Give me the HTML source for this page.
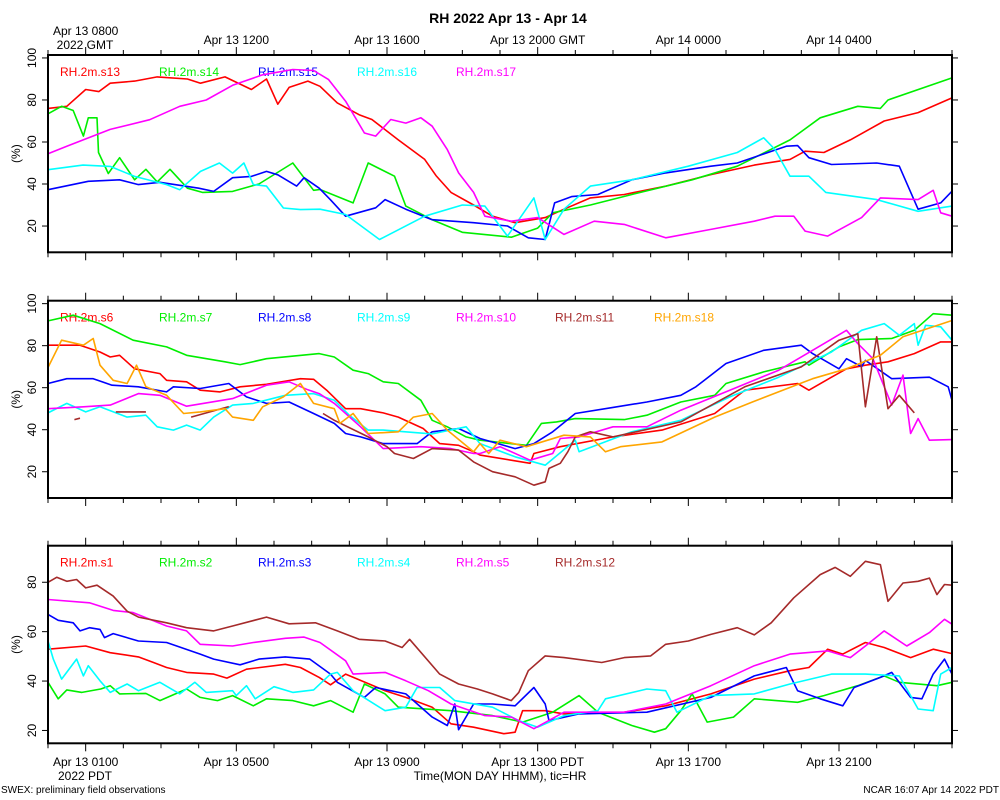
<!DOCTYPE html>
<html><head><meta charset="utf-8">
<style>
html,body{margin:0;padding:0;background:#fff;}
svg{display:block;font-family:"Liberation Sans",sans-serif;}
</style></head>
<body>
<svg id="chart" width="1000" height="800" viewBox="0 0 1000 800" xmlns="http://www.w3.org/2000/svg">
<rect x="0" y="0" width="1000" height="800" fill="#fff"/>
<text x="508" y="23" font-size="14" font-weight="bold" text-anchor="middle">RH 2022 Apr 13 - Apr 14</text>
<text x="500" y="780" font-size="12" text-anchor="middle">Time(MON DAY HHMM), tic=HR</text>
<text x="1" y="793" font-size="10">SWEX: preliminary field observations</text>
<text x="999" y="793" font-size="10" text-anchor="end">NCAR 16:07 Apr 14 2022 PDT</text>
<text x="85" y="49" font-size="12" text-anchor="middle">2022 GMT</text>
<text x="85" y="780" font-size="12" text-anchor="middle">2022 PDT</text>
<g id="layer"></g>
</svg>
<script>
// ---- time axis data (hours PDT) ----
const topTickLabels = ["Apr 13 0800","Apr 13 1200","Apr 13 1600","Apr 13 2000 GMT","Apr 14 0000","Apr 14 0400"];
const bottomTickLabels = ["Apr 13 0100","Apr 13 0500","Apr 13 0900","Apr 13 1300 PDT","Apr 13 1700","Apr 13 2100"];
const labelHours = [1,5,9,13,17,21];
const yTicksTop = [20,40,60,80,100];
const yTicksMid = [20,40,60,80,100];
const yTicksBot = [20,40,60,80];

// ---- Panel 1 ----
const s13T=[0,0.5,1,1.35,1.65,2.3,2.9,3.7,4.05,4.7,5.4,5.8,6.1,6.4,6.9,7.22,7.68,8.26,8.6,9.3,10,10.3,10.7,11.3,11.8,12.4,13.2,13.7,14.4,15.3,16.4,17.6,18.75,19.7,20.1,20.6,21.3,22.2,23.1,24];
const s13V=[76,77,85,84,88,89,91,90,88,91,85,90,78,86,89,86.5,78.6,73,70.7,61,51.7,44,36,30,24.7,21.6,24,28,33.4,35,39,44.5,49,51.7,55.6,55,61,70,74,81];
const s14T=[0,0.36,0.67,0.94,1.07,1.3,1.34,1.6,1.9,2.3,2.6,2.9,3.24,3.7,4.1,4.9,5.6,6.5,7.05,7.22,8.1,8.5,9.2,9.5,10.2,11,12.3,13,13.4,14.4,15.5,17.1,18.3,19.7,20.5,21.5,22.1,22.3,24];
const s14V=[73.4,77,75,62.8,71.5,71.5,55,45,52.5,42,47,41,47,38,36,36.5,40,50,37,37.4,31,50,43.7,29.5,23,17,14.7,19,26.3,30,35,42,48.5,61,71.5,77,76,80,90.5];
const s15T=[0,1.07,1.9,2.4,2.97,4,4.4,4.9,5.4,5.8,6.1,6.6,6.8,7.2,7.5,7.9,8.7,8.95,9.5,10.2,11.3,12.2,12.75,13.2,13.45,13.9,14.6,15.5,16.4,17.6,18.3,19.6,19.9,20.2,20.8,22,22.6,23.1,23.7,24];
const s15V=[37.3,41.3,42,39.7,40.8,38,36.5,43,43.6,46,44.4,39,43,38,32.5,24.7,28.7,32.6,28,23,21.6,20,14.4,13.6,31,34,35,42,45.3,48.5,50,58,58.3,52.5,49.3,50,48.5,28,31,36.6];
const s16T=[0,0.93,1.65,2.3,3.15,3.5,4.05,4.55,4.9,5.2,5.45,5.8,6.25,6.7,7.22,7.9,8.8,10,11,11.6,12.2,12.9,13.2,13.7,14.4,15.5,17,18.3,19,19.3,19.7,20.2,20.65,22,23.1,24];
const s16V=[46.8,49,48.4,43.6,39.7,37.3,46,50,45.2,50,39.7,39,28.6,27.8,28,25.5,13.6,24.7,30,29.5,15.2,33.4,13.6,28,39,42,48.5,55,62,56.4,43.7,43.7,36,32.6,27,29.5];
const s17T=[0,0.5,1.65,2.7,3.5,4.2,4.9,5.7,6.5,7.05,7.45,7.9,8.4,8.7,9.1,9.5,9.9,10.2,10.6,10.9,11.3,11.6,12.3,13,13.7,14.5,15.3,16.4,17.6,18.75,19.3,19.8,20.1,20.7,21.6,22.1,23.1,23.5,23.7,24];
const s17V=[54.4,58,66,70.6,77,80,87,92,94.5,94,89.7,79.4,64.3,62.8,70.7,69,71.5,67.5,56.4,45.3,36,24.7,22.3,24,16,22.3,20.8,14.4,18.4,22.3,24.7,24.7,17.6,15.2,24,33.4,32.6,37,26.3,24.7];

// ---- Panel 2 ----
const s6T=[0,0.85,1.38,1.65,1.9,2.3,2.97,3.15,3.68,4.04,4.57,5.1,5.8,6.7,7.05,7.4,7.9,8.3,8.9,9.3,9.96,10.4,10.9,11.3,11.47,12.8,12.9,13.6,15,16.3,17.7,18.5,19.9,20.2,20.8,21.2,21.7,22.3,23,23.7,24];
const s6V=[80.2,80.2,77,74.6,75.4,69,66.7,63.5,62.8,58.8,58,60.4,61.6,64.3,64,58.8,50,50,48,46,40.6,33.4,32.6,29.5,27.9,24,28.7,31.9,36.6,39.8,47.7,58.8,62,58.8,65,69,70.7,72.3,76.2,81.8,81.8];
const s7T=[0,0.67,1.38,2.26,3.15,3.68,4.7,5.1,5.8,7.2,7.6,8.1,8.5,8.9,9.3,9.9,10.2,10.6,11.1,11.47,12.7,13.1,13.5,14,15.3,15.9,16.8,17.7,18,19,20.1,20.2,21,21.5,22.4,23,23.5,24];
const s7V=[91.8,94.5,90.5,82.6,79.4,75.4,72.3,71,73.8,76.2,74.6,68.3,66.7,62.8,62,54,44.5,41.4,36.6,35,32.6,43,43.7,45.3,44.8,46.9,53.2,56.4,62,67.5,72.3,70.7,79.4,82.9,83.4,87.3,95.2,94.5];
const s8T=[0,0.5,1.2,1.7,2.4,3.15,3.33,4.04,4.8,5.27,5.8,6.4,7.05,7.6,7.9,8.3,8.9,9.8,10.2,10.9,11.47,12.4,12.9,13.4,14,15,15.9,16.8,17.2,18,19,20,20.3,21,21.2,21.6,21.7,22.4,23.4,23.9,24];
const s8V=[62,64.3,64.3,61.2,60.4,58,60.4,59.6,62,55.6,52.5,53.2,47.7,43,38.2,36.6,33.4,33.4,39,40.6,35.8,31,33.4,39,47.7,50.6,53.2,56.4,60.4,71.5,77.8,80.2,76.2,69,73.8,70,73,64.3,65,60.4,54];
const s9T=[0,0.5,1,1.38,2.1,2.6,2.9,3.33,3.68,4.04,4.4,4.9,5.45,6.3,7.05,7.6,8,8.5,8.9,10.2,11.1,11.47,12.4,13.2,14,14.1,15.5,16.8,18.1,19.4,20.8,21.6,22.2,22.6,23,23.1,23.3,23.7,24];
const s9V=[48,52.5,48.5,50.9,46,46.9,41.4,39.8,42.2,39.8,46,51.7,52.5,56.4,57.2,54,46.9,39.8,39.8,38,41.4,33.4,27.1,23.1,35,29.5,39,44.5,55.6,65,77,87.3,90.5,85,90.5,80.2,89.7,89,82.6];
const s10T=[0,0.94,1.65,2.4,2.97,3.68,4.9,5.8,6.4,6.9,7.2,7.6,8.3,8.9,9.9,10.7,11.3,11.47,12,12.8,13.4,13.6,14.1,15,15.9,16.8,18.1,19.4,20.3,21.2,21.5,21.9,22.4,22.7,22.9,23.1,23.4,24];
const s10V=[50,50.9,51.7,57.2,56.4,51.2,54.8,61.2,62.8,59,57.2,52.5,41.4,31,31.9,31,28.7,28.7,31.9,25.5,28.7,35.8,36.6,41.4,41.4,49.3,58.8,68.3,77.8,87.3,81,73.8,51.7,66,38.2,45.3,35,35.3];
const s11T=[0.7,0.85,null,1.8,2.6,null,3.8,4.8,null,7.3,7.6,8.5,9,9.2,9.7,10.2,10.9,11.3,11.8,12.4,12.9,13.2,13.3,13.6,13.8,14,14.4,15,16.8,18.5,20,21,21.5,21.7,22,22.3,22.6,23];
const s11V=[44.8,45.5,null,48.5,48.5,null,46,51,null,47.7,44.5,36.6,31.9,28.7,26.3,31,30.3,24.7,20,17.6,13.6,15.2,21.6,24,29.5,36.6,39,36.6,43.7,60.4,69.9,82.6,85.7,50.9,84.2,50,56.4,48];
const s18T=[0,0.36,0.94,1.2,1.38,1.73,2.1,2.35,2.6,3.15,3.6,4.04,4.7,4.9,5.45,5.7,6.25,6.7,7.05,7.6,7.75,8.1,8.5,9.3,9.7,10.2,10.6,11.3,11.47,11.7,12,12.7,13.7,14.4,14.8,15.2,16.3,17.7,18.7,20.3,21.2,22.1,22.7,24];
const s18V=[69.6,82.6,80.2,83.4,70.7,63.5,62,70.7,60.4,56.4,47.7,48.5,50,46,44.5,50.9,55.6,62,52.5,50,43,47.7,38.2,39,46,47.7,39.8,29.5,33.4,28.7,35,31.9,37.4,36.6,29.5,31.9,34.2,46,53.2,64.3,69,75.4,84.2,92];

// ---- Panel 3 ----
const s1T=[0,1,1.65,2.4,2.8,3.15,3.68,4.4,4.75,5.27,6.3,6.7,7.2,7.5,7.9,8.95,9.5,10.2,10.7,11.3,12.1,12.4,12.6,13.2,13.7,15.3,16.4,17.6,18.75,19.7,20.2,20.7,21.1,21.7,22.2,22.9,23.5,24];
const s1V=[52.9,54.2,51.5,49.8,47.5,45.5,43.5,42.8,41.2,44.8,46.8,45.5,41.5,38.5,42.8,36.1,33.4,29.4,22.7,21.3,18.7,19.3,28,28,26.7,27.4,30,34.8,40.8,44.2,45.5,52.9,50.9,55.6,53.6,49.5,52.9,51.1];
const s2T=[0,0.27,0.5,0.9,1.4,1.65,1.9,2.6,2.97,3.68,4.04,4.5,4.9,5.45,5.8,6.5,7.05,7.5,8.1,8.4,8.95,9.3,10.7,11.8,12.6,13.4,14.1,14.6,15.5,16.1,16.4,16.8,17.1,17.5,18.2,18.75,19.9,20.6,21.5,22.2,22.6,23.6,24];
const s2V=[39.5,32.8,36.4,35.4,36.8,38.1,34.8,35,32.1,36.8,33.4,32.1,34.1,30,32.8,32.1,30,32.1,27.4,38.8,34.8,29.4,28,26,23.4,27.4,34.1,27.4,22,19.3,20.7,28,34.8,23.4,25.4,32.8,31.4,34.1,38.1,42.1,39.5,38.1,39.5];
const s3T=[0,0.27,0.67,0.85,1.1,1.38,1.5,1.73,2.4,3.15,4.04,4.4,5.1,5.6,6.3,6.95,7.5,7.68,8.4,8.7,9.5,10.2,10.6,10.8,10.9,11.3,11.8,12.4,12.9,13.2,13.3,14.1,15.9,17.6,18.75,19.6,19.9,20.5,21.1,21.4,22.1,22.4,22.9,23.2,23.5,23.8,24];
const s3V=[67,64.6,63.6,60.3,61.6,60.9,57.6,59.2,56.2,55.6,50.9,48.9,46.6,48.9,49.8,48.9,42.8,39.5,33.4,37.4,34.8,25.4,22,30.7,20.3,30.7,30.7,30,37.4,30.7,24,26.7,27.4,33.4,42.1,45.5,36.1,32.8,30,37.4,41.5,43.5,33.4,32.8,42.8,48.9,42.8];
const s4T=[0,0.14,0.36,0.76,0.94,1.07,1.38,1.65,2.1,2.4,2.97,3.5,3.9,4.2,4.9,5,5.27,5.5,6,6.5,7.05,7.5,7.68,8.1,8.95,9.5,9.8,10.4,10.8,11.8,12.5,13,13.7,14.6,14.8,15.9,16.4,16.7,17.6,18.75,19.7,20.8,21.7,22.6,22.9,23.1,23.5,23.7,24];
const s4V=[56.2,48.9,40.8,48.9,42.1,46.2,40.1,35.4,38.8,36.1,39.5,34.8,39.5,35.4,36.1,34.1,38.1,32.8,37.7,35.4,36.4,42.8,43.5,36.1,28,29.4,37.4,37.4,32.1,29.4,24,21.3,26,28,32.8,36.8,36.1,27.4,34.1,34.8,38.8,42.8,42.8,42.1,34.1,28.7,28,42.8,45.5];
const s5T=[0,1.1,1.73,2.26,3.15,3.68,4.04,4.9,5.45,6.3,6.8,7.22,7.9,8.1,8.95,9.5,10.1,10.7,11.6,12.3,12.9,13.7,15.3,16.4,17.6,18.75,19.7,20.7,21.3,21.7,22.2,22.8,23.4,23.8,24];
const s5V=[73,71.7,68.6,67.7,62.3,60.3,54.9,54.2,55.6,57.3,57.8,55.6,48.2,42.8,43.5,40.1,36.1,30.7,26,25.4,20.7,27.4,27.4,30.7,38.1,46.2,50.9,52.2,49.5,54.2,60.3,54.2,59.6,65,63];
const s12T=[0,0.23,0.5,0.76,1,1.3,1.73,2.1,2.4,3.15,3.68,4.4,4.9,5.8,6.4,7.1,7.68,8.26,8.95,9.4,9.6,10.4,10.9,11.4,11.8,12.3,12.5,12.75,13.2,13.7,14.7,15.3,16,16.4,17,17.6,18.3,18.75,19.2,19.8,20.5,20.9,21.3,21.7,22.1,22.3,22.7,23.1,23.4,23.6,23.8,24];
const s12V=[80,82,80.4,81.1,77.7,78.8,74.4,68.3,65.9,63.6,61.6,60.3,62.3,65.9,63.2,63.6,60.3,56.9,56.2,53.6,56.9,42.8,38.8,36.8,34.8,32.1,35.4,44.2,50.2,49.5,47.5,49.5,50.2,54.9,56.2,58.9,61.6,58.7,63.6,73.7,83.1,86,82.4,88.5,87.1,72.3,79.7,80.4,81.7,75,79.1,78.8];

const NS="http://www.w3.org/2000/svg";
const layer=document.getElementById('layer');
const X0=48,X1=952;
function xs(t){return X0+(X1-X0)*t/24;}
function mk(tag,attrs){const e=document.createElementNS(NS,tag);for(const k in attrs)e.setAttribute(k,attrs[k]);layer.appendChild(e);return e;}

const panels=[
 {top:55,bot:252.3,vTop:101.4,vBot:7.5,ticks:yTicksTop,name:'top',series:[
  ['RH.2m.s13','#ff0000',s13T,s13V],['RH.2m.s14','#00ee00',s14T,s14V],['RH.2m.s15','#0000ff',s15T,s15V],['RH.2m.s16','#00ffff',s16T,s16V],['RH.2m.s17','#ff00ff',s17T,s17V]]},
 {top:300.7,bot:498,vTop:101.4,vBot:7.5,ticks:yTicksMid,name:'middle',series:[
  ['RH.2m.s6','#ff0000',s6T,s6V],['RH.2m.s7','#00ee00',s7T,s7V],['RH.2m.s8','#0000ff',s8T,s8V],['RH.2m.s9','#00ffff',s9T,s9V],['RH.2m.s10','#ff00ff',s10T,s10V],['RH.2m.s11','#a52a2a',s11T,s11V],['RH.2m.s18','#ffa500',s18T,s18V]]},
 {top:545.7,bot:743.3,vTop:94.8,vBot:14.8,ticks:yTicksBot,name:'bottom',series:[
  ['RH.2m.s1','#ff0000',s1T,s1V],['RH.2m.s2','#00ee00',s2T,s2V],['RH.2m.s3','#0000ff',s3T,s3V],['RH.2m.s4','#00ffff',s4T,s4V],['RH.2m.s5','#ff00ff',s5T,s5V],['RH.2m.s12','#a52a2a',s12T,s12V]]}
];

panels.forEach((p,pi)=>{
 const ys=v=>p.bot-(v-p.vBot)*(p.bot-p.top)/(p.vTop-p.vBot);
 // series
 p.series.forEach((s,si)=>{
  let d='',pen=false;
  for(let i=0;i<s[2].length;i++){
   if(s[2][i]===null){pen=false;continue;}
   d+=(pen?'L':'M')+xs(s[2][i]).toFixed(1)+','+ys(s[3][i]).toFixed(1);pen=true;
  }
  const l=mk('path',{d:d,fill:'none',stroke:s[1],'stroke-width':1.6,'stroke-linejoin':'round'});
  
  
  const lt=mk('text',{x:60+si*99,y:p.top+21,'font-size':12,fill:s[1]});
  lt.textContent=s[0];
  
  
 });
 // frame
 const fr=mk('rect',{x:X0,y:p.top,width:X1-X0,height:p.bot-p.top,fill:'none',stroke:'#000','stroke-width':2});
 
 
 // x ticks
 for(let h=0;h<=24;h++){
  const x=xs(h),len=(labelHours.indexOf(h)>=0)?8:5;
  mk('line',{x1:x,y1:p.top,x2:x,y2:p.top-len,stroke:'#000','stroke-width':1});
  mk('line',{x1:x,y1:p.bot,x2:x,y2:p.bot+len,stroke:'#000','stroke-width':1});
 }
 // y ticks
 p.ticks.forEach(v=>{
  const y=ys(v);
  mk('line',{x1:X0-6,y1:y,x2:X0,y2:y,stroke:'#000','stroke-width':1});
  mk('line',{x1:X1,y1:y,x2:X1+6,y2:y,stroke:'#000','stroke-width':1});
  const t=mk('text',{x:0,y:0,'font-size':12,'text-anchor':'middle',transform:`translate(36,${y}) rotate(-90)`});
  t.textContent=String(v);
  
  
 });
 const yl=mk('text',{x:0,y:0,'font-size':12,'text-anchor':'middle',transform:`translate(20,${(p.top+p.bot)/2}) rotate(-90)`});
 yl.textContent='(%)';
 
 
});

// top GMT labels
labelHours.forEach((h,i)=>{
 const t=mk('text',{x:xs(h),y:i===0?35:44,'font-size':12,'text-anchor':'middle'});
 t.textContent=topTickLabels[i];
 
 
 const b=mk('text',{x:xs(h),y:766,'font-size':12,'text-anchor':'middle'});
 b.textContent=bottomTickLabels[i];
 
 
});
</script>
</body></html>
